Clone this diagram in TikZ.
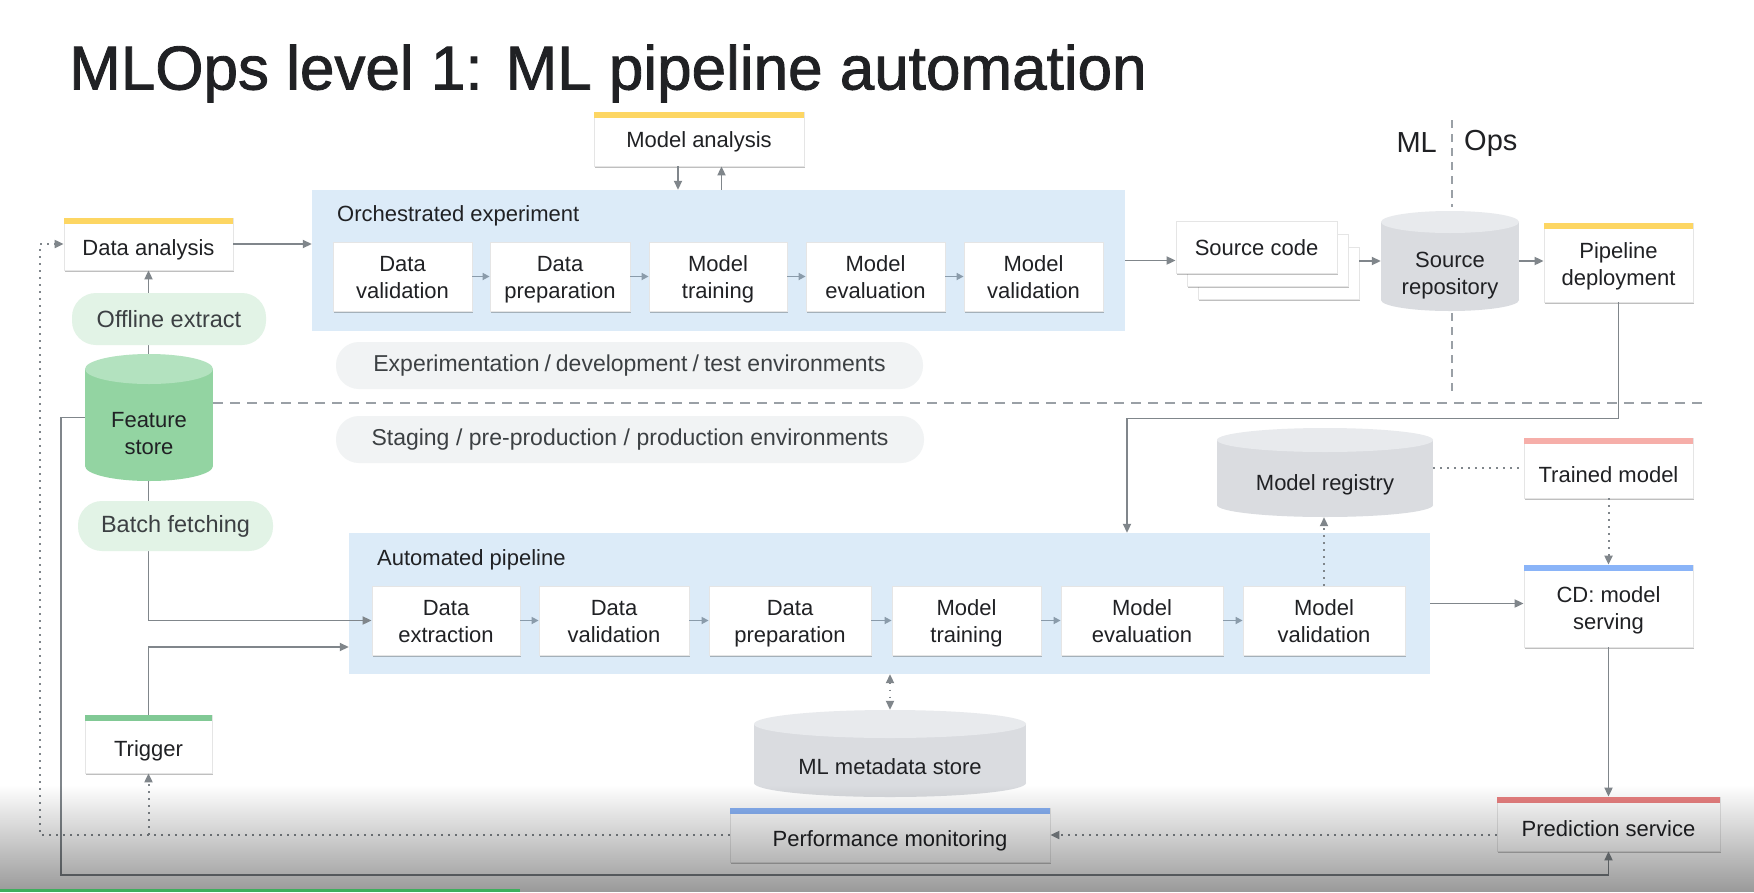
\documentclass[tikz,border=0pt]{standalone}
\usepackage{fontspec}
\setmainfont{Liberation Sans}
\newfontfamily\titlefont{Liberation Sans}[FakeBold=1.4]
\usetikzlibrary{arrows.meta,shadows,fadings,calc}
\definecolor{txt}{HTML}{202124}
\definecolor{txtsoft}{HTML}{3C4043}
\definecolor{ln}{HTML}{80868B}
\definecolor{lblue}{HTML}{DCEBF8}
\definecolor{pillg}{HTML}{E2F3E6}
\definecolor{pillgray}{HTML}{F1F3F4}
\definecolor{fsbody}{HTML}{93D4A2}
\definecolor{fstop}{HTML}{B3E2BF}
\definecolor{cylbody}{HTML}{DADCE0}
\definecolor{cyltop}{HTML}{E8EAED}
\definecolor{barYellow}{HTML}{FDD663}
\definecolor{barBlue}{HTML}{8AB4F8}
\definecolor{barGreen}{HTML}{81C995}
\definecolor{barPink}{HTML}{F6AEA9}
\definecolor{barRed}{HTML}{E88080}
\definecolor{smallarr}{HTML}{8A9BAA}
\definecolor{divcol}{HTML}{9AA0A6}
\definecolor{progress}{HTML}{3DAE5C}
\tikzfading[name=fadedown, top color=transparent!100, bottom color=transparent!0]
\newcommand\lbl{\fontsize{22}{27}\selectfont}
\newcommand\topbar[2]{\fill[#2] (#1.north west) rectangle ([yshift=-6.5pt]#1.north east);}
\begin{document}
\begin{tikzpicture}[x=1pt,y=-1pt,
  every node/.style={text=txt},
  card/.style={rectangle, fill=white, draw=black!10, line width=0.8pt,
    drop shadow={shadow xshift=0.6pt, shadow yshift=-1.8pt, opacity=0.25, fill=black},
    align=center, font=\lbl, inner sep=0pt, text height=21pt, text depth=5pt},
  twoline/.style={card, text height=48pt},
  group/.style={rectangle, fill=lblue, draw=none, inner sep=0pt},
  pill/.style={rectangle, rounded corners=24pt, fill=pillg, draw=none, font=\fontsize{23.5}{27}\selectfont, text=txtsoft, inner sep=0pt},
  envpill/.style={rectangle, rounded corners=23pt, fill=pillgray, draw=none, font=\fontsize{23}{27}\selectfont, text=txtsoft, inner sep=0pt},
  area/.style={rectangle, draw=none, fill=none, inner sep=0pt},
  cyltext/.style={font=\lbl, align=center, inner sep=0pt},
  conn/.style={draw=ln, line width=1.8pt, -{Triangle[length=9pt,width=8pt]}},
  dotline/.style={draw=ln, line width=2pt, dash pattern=on 1.6pt off 5.4pt},
  dotconn/.style={dotline, -{Triangle[length=9pt,width=8pt]}},
  dotboth/.style={dotline, {Triangle[length=9pt,width=8pt]}-{Triangle[length=9pt,width=8pt]}},
  small/.style={draw=smallarr, line width=1.6pt, -{Triangle[length=7pt,width=7pt]}},
  divider/.style={draw=divcol, line width=1.8pt, dash pattern=on 10pt off 7pt}
]
\useasboundingbox (0,0) rectangle (1754,892);
\fill[white] (0,0) rectangle (1754,892);

% title
\node[anchor=base west, inner sep=0pt, font=\titlefont\fontsize{62}{70}\selectfont] (title) at (69,89.5) {MLOps level 1: ML pipeline automation};

% ML | Ops
\node[anchor=east, inner sep=0pt, font=\fontsize{29}{32}\selectfont] (mlt) at (1437,143) {ML};
\node[anchor=west, inner sep=0pt, font=\fontsize{29}{32}\selectfont] (opst) at (1464,143) {Ops};
\draw[divider, dash pattern=on 8pt off 6pt] (1452,120) -- (1452,207);
\draw[divider, dash pattern=on 8pt off 6pt] (1452,313) -- (1452,394);

% environment divider
\draw[divider] (213,403) -- (1706,403);

% groups
\node[group, minimum width=813pt, minimum height=141pt] (orch) at (718.5,260.5) {};
\node[anchor=west, inner sep=0pt, font=\lbl] (orchlbl) at (337,216) {Orchestrated experiment};
\node[group, minimum width=1081pt, minimum height=141pt] (auto) at (889.5,603.5) {};
\node[anchor=west, inner sep=0pt, font=\lbl] (autolbl) at (377,560) {Automated pipeline};

% environment pills
\node[envpill, minimum width=587pt, minimum height=47pt] (env1) at (629.5,365.5) {Experimentation\kern5pt/\kern5pt development\kern5pt/\kern5pt test environments};
\node[envpill, minimum width=588pt, minimum height=47pt] (env2) at (630,439.5) {Staging\kern6.5pt/\kern6.5pt pre-production\kern6.5pt/\kern6.5pt production environments};

% orchestrated experiment steps
\node[twoline, minimum width=139pt, minimum height=69pt] (odv) at (402.5,276.5) {Data\\validation};
\node[twoline, minimum width=140pt, minimum height=69pt] (odp) at (560,276.5) {Data\\preparation};
\node[twoline, minimum width=138pt, minimum height=69pt] (omt) at (718,276.5) {Model\\training};
\node[twoline, minimum width=139pt, minimum height=69pt] (ome) at (875.5,276.5) {Model\\evaluation};
\node[twoline, minimum width=139pt, minimum height=69pt] (omv) at (1033.5,276.5) {Model\\validation};

% automated pipeline steps
\node[twoline, minimum width=148pt, minimum height=69pt] (ade) at (446,620.5) {Data\\extraction};
\node[twoline, minimum width=150pt, minimum height=69pt] (adv) at (614,620.5) {Data\\validation};
\node[twoline, minimum width=162pt, minimum height=69pt] (adp) at (790,620.5) {Data\\preparation};
\node[twoline, minimum width=149pt, minimum height=69pt] (amt) at (966.5,620.5) {Model\\training};
\node[twoline, minimum width=162pt, minimum height=69pt] (ame) at (1142,620.5) {Model\\evaluation};
\node[twoline, minimum width=162pt, minimum height=69pt] (amv) at (1324,620.5) {Model\\validation};

\foreach \a/\b in {odv/odp, odp/omt, omt/ome, ome/omv, ade/adv, adv/adp, adp/amt, amt/ame, ame/amv}
  \draw[small] (\a.east) -- (\b.west);

% cards
\node[card, minimum width=210pt, minimum height=54pt, text height=22pt] (ma) at (699,139) {Model analysis};
\topbar{ma}{barYellow}
\node[card, minimum width=169pt, minimum height=52pt, text height=27pt] (da) at (148.5,244) {Data analysis};
\topbar{da}{barYellow}
\node[card, minimum width=161pt, minimum height=52pt] (sc3) at (1278.5,273) {};
\node[card, minimum width=161pt, minimum height=52pt] (sc2) at (1267.5,260) {};
\node[card, minimum width=161pt, minimum height=52pt] (sc1) at (1256.5,247) {Source code};
\node[twoline, minimum width=149pt, minimum height=79pt, text height=51pt] (pd) at (1618.5,262.5) {Pipeline\\deployment};
\topbar{pd}{barYellow}
\node[card, minimum width=169pt, minimum height=60pt, text height=34pt] (tm) at (1608.5,468) {Trained model};
\topbar{tm}{barPink}
\node[twoline, minimum width=169pt, minimum height=82pt, text height=52pt] (cd) at (1608.5,606) {CD: model\\serving};
\topbar{cd}{barBlue}
\node[card, minimum width=223pt, minimum height=54pt, text height=29pt] (ps) at (1608.5,824) {Prediction service};
\topbar{ps}{barRed}
\node[card, minimum width=320pt, minimum height=54pt, text height=27pt] (pm) at (890,835) {Performance monitoring};
\topbar{pm}{barBlue}
\node[card, minimum width=127pt, minimum height=58pt, text height=29pt] (trig) at (148.5,744) {Trigger};
\topbar{trig}{barGreen}

% cylinders
% Feature store
\fill[fsbody] (85,369) rectangle (213,466);
\fill[fsbody] (149,466) ellipse [x radius=64pt, y radius=15pt];
\fill[fstop] (149,369) ellipse [x radius=64pt, y radius=15pt];
\node[area, minimum width=128pt, minimum height=127pt] (fs) at (149,417.5) {};
\node[cyltext] (fstext) at (149,434) {Feature\\store};
% Source repository
\fill[cylbody] (1381,222) rectangle (1519,300);
\fill[cylbody] (1450,300) ellipse [x radius=69pt, y radius=11pt];
\fill[cyltop] (1450,222) ellipse [x radius=69pt, y radius=11pt];
\node[area, minimum width=138pt, minimum height=100pt] (sr) at (1450,261) {};
\node[cyltext] (srtext) at (1450,276) {Source\\repository};
% Model registry
\fill[cylbody] (1217,440) rectangle (1433,505);
\fill[cylbody] (1325,505) ellipse [x radius=108pt, y radius=12pt];
\fill[cyltop] (1325,440) ellipse [x radius=108pt, y radius=12pt];
\node[area, minimum width=216pt, minimum height=89pt] (mr) at (1325,472.5) {};
\node[cyltext] (mrtext) at (1325,485) {Model registry};
% ML metadata store
\fill[cylbody] (754,724) rectangle (1026,783);
\fill[cylbody] (890,783) ellipse [x radius=136pt, y radius=14pt];
\fill[cyltop] (890,724) ellipse [x radius=136pt, y radius=14pt];
\node[area, minimum width=272pt, minimum height=87pt] (mm) at (890,753.5) {};
\node[cyltext] (mmtext) at (890,767) {ML metadata store};

% coordinates for routed connectors
\coordinate (lc1) at (40,835);
\coordinate (lc2) at (40,244);
\coordinate (bl1) at (61,417.5);
\coordinate (bl2) at (61,875);

% connectors
\draw[conn] ([xshift=-21pt]ma.south) -- ([xshift=-21pt]ma.south |- orch.north);
\draw[conn] ([xshift=22.5pt]ma.south |- orch.north) -- ([xshift=22.5pt]ma.south);
\draw[conn] (da.east) -- (da.east -| orch.west);
\draw[conn] (fs.north -| da.south) -- (da.south);
\draw[conn] (fs.south -| da.south) |- (ade.west);
\draw[conn] (trig.north) |- ([yshift=-43.5pt]auto.west);
\draw[conn] (pd.south) -- ++(0,116) -| ([xshift=237.5pt]auto.north);
\draw[conn] (orch.east) -- (orch.east -| sc1.west);
\draw[conn] (sr.west -| sc3.east) -- (sr.west);
\draw[conn] (sr.east) -- (sr.east -| pd.west);
\draw[conn] (auto.east) -- (auto.east -| cd.west);
\draw[conn] (cd.south) -- (ps.north);
\draw[dotconn] (tm.south) -- (cd.north);
\draw[dotline] (mr.east |- tm.west) -- (tm.west);
\draw[dotconn] (amv.north) -- (amv.north |- mr.south);
\draw[dotboth] (mm.north |- auto.south) -- (mm.north);
\draw[dotconn] (ps.west |- pm.east) -- (pm.east);
\draw[dotconn] (pm.west) -- (lc1) -- (lc2) -- (da.west);
\draw[dotconn] (trig.south |- pm.west) -- (trig.south);
\draw[conn] (fs.west) -- (bl1) -- (bl2) -| (ps.south);

% pills over lines
\node[pill, minimum width=194pt, minimum height=52pt] (oe) at (169,319) {Offline extract};
\node[pill, minimum width=195pt, minimum height=50pt] (bf) at (175.5,526) {Batch fetching};

% video overlay at bottom
\fill[black, fill opacity=0.4, path fading=fadedown] (0,785) rectangle (1754,892);
\fill[progress] (0,889) rectangle (520,892);
\end{tikzpicture}
\end{document}
